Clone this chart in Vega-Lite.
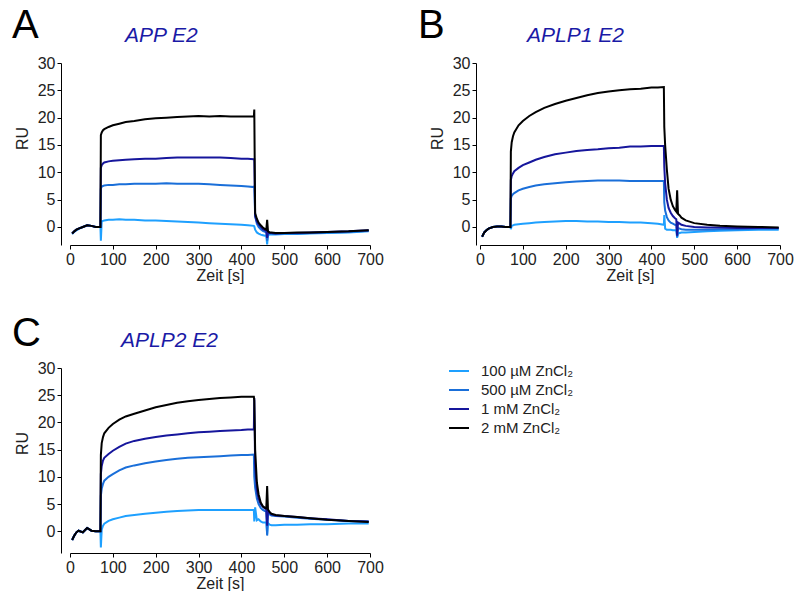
{
  "$schema": "https://vega.github.io/schema/vega-lite/v6.json",
  "background": "white",
  "padding": {"left": 12, "top": 6, "right": 0, "bottom": 0},
  "config": {
    "view": {"stroke": null},
    "font": "Liberation Sans",
    "axis": {"grid": false, "domainColor": "#000", "tickColor": "#000", "labelColor": "#222", "titleColor": "#222", "labelFontSize": 16, "titleFontSize": 16, "titleFontWeight": "normal", "tickSize": 4, "labelPadding": 2, "domainWidth": 1, "tickWidth": 1, "titlePadding": 0, "labelFlush": false, "labelOverlap": false}
  },
  "datasets": {
    "A": [
      {"t":5,"a":-1.3,"b":-1.2,"c":-1.2,"d":-1.2},{"t":10,"a":-0.9,"b":-0.8,"c":-0.8,"d":-0.8},{"t":15,"a":-0.6,"b":-0.5,"c":-0.5,"d":-0.5},{"t":20,"a":-0.4,"b":-0.3,"c":-0.3,"d":-0.3},{"t":30,"a":0.0,"b":0.0,"c":0.0,"d":0.0},{"t":40,"a":0.3,"b":0.3,"c":0.3,"d":0.3},{"t":50,"a":0.2,"b":0.2,"c":0.2,"d":0.2},{"t":60,"a":0.0,"b":0.0,"c":0.0,"d":0.0},{"t":71,"a":0.0,"b":0.0,"c":0.0,"d":0.0},
      {"t":72,"a":-2.5,"b":7.0,"c":10.8,"d":16.8},{"t":74,"a":1.0,"b":7.4,"c":11.3,"d":17.3},{"t":77,"a":1.1,"b":7.5,"c":11.6,"d":17.7},{"t":80,"a":1.2,"b":7.6,"c":11.8,"d":17.9},{"t":90,"a":1.3,"b":7.7,"c":12.0,"d":18.3},{"t":100,"a":1.3,"b":7.7,"c":12.1,"d":18.6},{"t":115,"a":1.4,"b":7.8,"c":12.2,"d":18.9},{"t":130,"a":1.3,"b":7.8,"c":12.3,"d":19.2},{"t":150,"a":1.3,"b":7.9,"c":12.4,"d":19.4},{"t":175,"a":1.2,"b":7.9,"c":12.5,"d":19.7},{"t":200,"a":1.2,"b":7.9,"c":12.5,"d":19.9},{"t":225,"a":1.1,"b":8.0,"c":12.6,"d":20.0},{"t":250,"a":1.0,"b":7.9,"c":12.7,"d":20.1},{"t":275,"a":0.9,"b":7.9,"c":12.7,"d":20.2},{"t":300,"a":0.8,"b":7.9,"c":12.7,"d":20.3},{"t":325,"a":0.7,"b":7.8,"c":12.7,"d":20.2},{"t":350,"a":0.6,"b":7.7,"c":12.7,"d":20.3},{"t":375,"a":0.5,"b":7.6,"c":12.6,"d":20.2},{"t":400,"a":0.4,"b":7.5,"c":12.5,"d":20.2},{"t":415,"a":0.3,"b":7.4,"c":12.5,"d":20.2},{"t":429,"a":0.2,"b":7.3,"c":12.4,"d":20.2},
      {"t":430,"a":0.1,"b":7.5,"c":12.4,"d":21.5},{"t":432,"a":-0.5,"b":2.0,"c":2.0,"d":2.5},{"t":436,"a":-1.0,"b":0.6,"c":1.0,"d":1.5},{"t":440,"a":-1.2,"b":0.0,"c":0.5,"d":0.8},{"t":445,"a":-1.4,"b":-0.4,"c":0.0,"d":0.3},{"t":450,"a":-1.5,"b":-0.7,"c":-0.4,"d":-0.1},{"t":455,"a":-1.6,"b":-0.9,"c":-0.6,"d":-0.4},{"t":458,"a":-1.6,"b":-1.0,"c":-0.7,"d":-0.5},{"t":460,"a":-3.2,"b":-2.5,"c":-2.0,"d":1.3},{"t":462,"a":-1.5,"b":-1.2,"c":-1.0,"d":-0.8},{"t":466,"a":-1.4,"b":-1.2,"c":-1.1,"d":-1.0},{"t":470,"a":-1.4,"b":-1.2,"c":-1.1,"d":-1.0},{"t":480,"a":-1.4,"b":-1.3,"c":-1.2,"d":-1.1},{"t":500,"a":-1.3,"b":-1.2,"c":-1.1,"d":-1.1},{"t":530,"a":-1.3,"b":-1.2,"c":-1.1,"d":-1.0},{"t":560,"a":-1.2,"b":-1.1,"c":-1.0,"d":-1.0},{"t":600,"a":-1.1,"b":-1.0,"c":-0.9,"d":-0.9},{"t":650,"a":-1.0,"b":-0.9,"c":-0.8,"d":-0.8},{"t":697,"a":-0.8,"b":-0.7,"c":-0.6,"d":-0.6}
    ],
    "B": [
      {"t":5,"a":-1.8,"b":-1.8,"c":-1.8,"d":-1.8},{"t":10,"a":-1.0,"b":-1.0,"c":-1.0,"d":-1.0},{"t":15,"a":-0.6,"b":-0.6,"c":-0.6,"d":-0.6},{"t":20,"a":-0.3,"b":-0.3,"c":-0.3,"d":-0.3},{"t":30,"a":0.0,"b":0.0,"c":0.0,"d":0.0},{"t":40,"a":0.1,"b":0.1,"c":0.1,"d":0.1},{"t":50,"a":0.1,"b":0.1,"c":0.1,"d":0.1},{"t":60,"a":0.0,"b":0.0,"c":0.0,"d":0.0},{"t":71,"a":0.0,"b":0.0,"c":0.0,"d":0.0},
      {"t":72,"a":-0.4,"b":5.2,"c":8.6,"d":13.8},{"t":74,"a":0.2,"b":5.7,"c":9.3,"d":15.5},{"t":77,"a":0.3,"b":6.0,"c":9.8,"d":16.6},{"t":80,"a":0.4,"b":6.2,"c":10.2,"d":17.3},{"t":90,"a":0.5,"b":6.7,"c":10.8,"d":18.6},{"t":100,"a":0.6,"b":7.0,"c":11.3,"d":19.4},{"t":115,"a":0.7,"b":7.3,"c":11.8,"d":20.3},{"t":130,"a":0.8,"b":7.6,"c":12.3,"d":21.0},{"t":150,"a":0.9,"b":7.8,"c":12.8,"d":21.8},{"t":175,"a":1.0,"b":8.0,"c":13.3,"d":22.5},{"t":200,"a":1.1,"b":8.2,"c":13.6,"d":23.1},{"t":225,"a":1.1,"b":8.3,"c":13.9,"d":23.6},{"t":250,"a":1.0,"b":8.4,"c":14.1,"d":24.1},{"t":275,"a":1.0,"b":8.5,"c":14.2,"d":24.5},{"t":300,"a":0.9,"b":8.5,"c":14.4,"d":24.8},{"t":325,"a":0.9,"b":8.5,"c":14.5,"d":25.0},{"t":350,"a":0.8,"b":8.4,"c":14.7,"d":25.2},{"t":375,"a":0.8,"b":8.4,"c":14.7,"d":25.3},{"t":400,"a":0.7,"b":8.4,"c":14.8,"d":25.5},{"t":415,"a":0.6,"b":8.4,"c":14.8,"d":25.5},{"t":429,"a":0.4,"b":8.4,"c":14.8,"d":25.6},
      {"t":430,"a":2.2,"b":4.5,"c":11.0,"d":18.3},{"t":432,"a":-0.3,"b":3.0,"c":8.0,"d":15.0},{"t":436,"a":-0.5,"b":1.8,"c":5.0,"d":10.5},{"t":440,"a":-0.5,"b":1.2,"c":3.5,"d":7.0},{"t":445,"a":-0.5,"b":0.8,"c":2.6,"d":5.0},{"t":450,"a":-0.6,"b":0.6,"c":2.0,"d":3.8},{"t":455,"a":-0.6,"b":0.4,"c":1.6,"d":3.1},{"t":458,"a":-0.6,"b":0.3,"c":1.4,"d":2.8},{"t":460,"a":-2.0,"b":-1.8,"c":-1.6,"d":6.7},{"t":462,"a":-1.2,"b":-0.2,"c":0.8,"d":2.4},{"t":466,"a":-1.1,"b":-0.3,"c":0.6,"d":2.1},{"t":470,"a":-1.0,"b":-0.4,"c":0.4,"d":1.7},{"t":480,"a":-1.0,"b":-0.5,"c":0.2,"d":1.2},{"t":500,"a":-0.9,"b":-0.5,"c":0.0,"d":0.7},{"t":530,"a":-0.8,"b":-0.5,"c":-0.1,"d":0.4},{"t":560,"a":-0.7,"b":-0.4,"c":-0.1,"d":0.2},{"t":600,"a":-0.6,"b":-0.4,"c":-0.2,"d":0.1},{"t":650,"a":-0.5,"b":-0.3,"c":-0.2,"d":0.0},{"t":697,"a":-0.5,"b":-0.3,"c":-0.2,"d":-0.1}
    ],
    "C": [
      {"t":5,"a":-1.6,"b":-1.6,"c":-1.6,"d":-1.6},{"t":10,"a":-0.8,"b":-0.8,"c":-0.8,"d":-0.8},{"t":15,"a":-0.2,"b":-0.2,"c":-0.2,"d":-0.2},{"t":20,"a":0.1,"b":0.1,"c":0.1,"d":0.1},{"t":30,"a":-0.2,"b":-0.2,"c":-0.2,"d":-0.2},{"t":40,"a":0.6,"b":0.6,"c":0.6,"d":0.6},{"t":50,"a":0.1,"b":0.1,"c":0.1,"d":0.1},{"t":60,"a":0.0,"b":0.0,"c":0.0,"d":0.0},{"t":71,"a":0.0,"b":0.0,"c":0.0,"d":0.0},
      {"t":72,"a":-3.0,"b":6.5,"c":10.5,"d":14.0},{"t":74,"a":0.3,"b":7.8,"c":12.0,"d":16.2},{"t":77,"a":1.0,"b":8.7,"c":13.0,"d":17.3},{"t":80,"a":1.4,"b":9.3,"c":13.5,"d":18.0},{"t":90,"a":1.9,"b":10.0,"c":14.2,"d":19.0},{"t":100,"a":2.2,"b":10.5,"c":14.8,"d":19.7},{"t":115,"a":2.5,"b":11.2,"c":15.5,"d":20.5},{"t":130,"a":2.8,"b":11.7,"c":16.1,"d":21.1},{"t":150,"a":3.0,"b":12.1,"c":16.6,"d":21.6},{"t":175,"a":3.2,"b":12.5,"c":17.0,"d":22.2},{"t":200,"a":3.4,"b":12.8,"c":17.3,"d":22.8},{"t":225,"a":3.6,"b":13.1,"c":17.6,"d":23.2},{"t":250,"a":3.7,"b":13.3,"c":17.8,"d":23.6},{"t":275,"a":3.8,"b":13.5,"c":18.0,"d":23.9},{"t":300,"a":3.9,"b":13.6,"c":18.2,"d":24.1},{"t":325,"a":3.9,"b":13.7,"c":18.3,"d":24.3},{"t":350,"a":3.9,"b":13.8,"c":18.4,"d":24.5},{"t":375,"a":3.9,"b":13.9,"c":18.5,"d":24.6},{"t":400,"a":3.9,"b":14.0,"c":18.6,"d":24.7},{"t":415,"a":3.9,"b":14.0,"c":18.7,"d":24.7},{"t":429,"a":3.9,"b":14.1,"c":18.7,"d":24.7},
      {"t":430,"a":1.8,"b":10.0,"c":24.5,"d":24.0},{"t":432,"a":4.4,"b":8.0,"c":12.0,"d":15.0},{"t":436,"a":2.0,"b":6.0,"c":7.5,"d":9.0},{"t":440,"a":2.2,"b":5.0,"c":6.0,"d":6.8},{"t":445,"a":1.8,"b":4.3,"c":5.0,"d":5.3},{"t":450,"a":1.6,"b":3.9,"c":4.5,"d":4.6},{"t":455,"a":1.6,"b":3.7,"c":4.2,"d":4.3},{"t":458,"a":1.6,"b":3.6,"c":4.0,"d":4.2},{"t":460,"a":-0.6,"b":-0.8,"c":1.0,"d":8.3},{"t":462,"a":1.5,"b":3.4,"c":3.8,"d":4.0},{"t":466,"a":1.2,"b":3.1,"c":3.4,"d":3.5},{"t":470,"a":1.1,"b":2.9,"c":3.1,"d":3.2},{"t":480,"a":1.1,"b":2.8,"c":2.9,"d":3.0},{"t":500,"a":1.2,"b":2.7,"c":2.8,"d":2.8},{"t":530,"a":1.2,"b":2.5,"c":2.6,"d":2.6},{"t":560,"a":1.3,"b":2.3,"c":2.4,"d":2.4},{"t":600,"a":1.3,"b":2.1,"c":2.2,"d":2.1},{"t":650,"a":1.4,"b":1.9,"c":1.9,"d":1.9},{"t":697,"a":1.4,"b":1.8,"c":1.8,"d":1.7}
    ]
  },
  "resolve": {"scale": {"color": "independent"}, "legend": {"color": "independent"}},
  "spacing": 31,
  "vconcat": [
    {
      "spacing": 34,
      "resolve": {"scale": {"color": "independent"}, "legend": {"color": "independent"}},
      "hconcat": [
        {
          "title": {"text": "A", "anchor": "start", "frame": "bounds", "fontSize": 40, "fontWeight": "normal", "color": "#000", "dy": 21, "dx": -2, "offset": 0},
          "resolve": {"scale": {"color": "independent"}, "legend": {"color": "independent"}},
          "vconcat": [
            {
              "title": {"text": "APP E2", "anchor": "start", "frame": "group", "fontSize": 21, "fontStyle": "italic", "fontWeight": "normal", "color": "#1a1aa6", "dx": 55, "offset": 9},
              "width": 300, "height": 182,
              "data": {"name": "A"},
              "transform": [{"fold": ["a", "b", "c", "d"], "as": ["s", "v"]}],
              "mark": {"type": "line", "strokeWidth": 2},
              "encoding": {
                "x": {"field": "t", "type": "quantitative", "scale": {"domain": [0, 700], "nice": false}, "axis": {"values": [0,100,200,300,400,500,600,700], "title": "Zeit [s]"}},
                "y": {"field": "v", "type": "quantitative", "scale": {"domain": [-3.3, 30], "nice": false, "zero": false}, "axis": {"values": [0,5,10,15,20,25,30], "title": "RU", "offset": 9, "titleX": -31, "titleY": 75}},
                "color": {"field": "s", "type": "nominal", "scale": {"domain": ["a","b","c","d"], "range": ["#1ea0ff","#1a6fd9","#16169c","#000000"]}, "legend": null}
              }
            }
          ]
        },
        {
          "title": {"text": "B", "anchor": "start", "frame": "bounds", "fontSize": 40, "fontWeight": "normal", "color": "#000", "dy": 21, "dx": -11, "offset": 0},
          "resolve": {"scale": {"color": "independent"}, "legend": {"color": "independent"}},
          "vconcat": [
            {
              "title": {"text": "APLP1 E2", "anchor": "start", "frame": "group", "fontSize": 21, "fontStyle": "italic", "fontWeight": "normal", "color": "#1a1aa6", "dx": 47, "offset": 9},
              "width": 300, "height": 182,
              "data": {"name": "B"},
              "transform": [{"fold": ["a", "b", "c", "d"], "as": ["s", "v"]}],
              "mark": {"type": "line", "strokeWidth": 2},
              "encoding": {
                "x": {"field": "t", "type": "quantitative", "scale": {"domain": [0, 700], "nice": false}, "axis": {"values": [0,100,200,300,400,500,600,700], "title": "Zeit [s]"}},
                "y": {"field": "v", "type": "quantitative", "scale": {"domain": [-3.3, 30], "nice": false, "zero": false}, "axis": {"values": [0,5,10,15,20,25,30], "title": "RU", "offset": 4, "titleX": -31, "titleY": 75}},
                "color": {"field": "s", "type": "nominal", "scale": {"domain": ["a","b","c","d"], "range": ["#1ea0ff","#1a6fd9","#16169c","#000000"]}, "legend": null}
              }
            }
          ]
        }
      ]
    },
    {
      "resolve": {"scale": {"color": "independent"}, "legend": {"color": "independent"}},
      "hconcat": [
        {
          "title": {"text": "C", "anchor": "start", "frame": "bounds", "fontSize": 40, "fontWeight": "normal", "color": "#000", "dy": 24, "dx": -2, "offset": 0},
          "resolve": {"scale": {"color": "independent"}, "legend": {"color": "independent"}},
          "vconcat": [
            {
              "title": {"text": "APLP2 E2", "anchor": "start", "frame": "group", "fontSize": 21, "fontStyle": "italic", "fontWeight": "normal", "color": "#1a1aa6", "dx": 51, "offset": 9},
              "width": 300, "height": 185,
              "data": {"name": "C"},
              "transform": [{"fold": ["a", "b", "c", "d"], "as": ["s", "v"]}],
              "mark": {"type": "line", "strokeWidth": 2},
              "encoding": {
                "x": {"field": "t", "type": "quantitative", "scale": {"domain": [0, 700], "nice": false}, "axis": {"values": [0,100,200,300,400,500,600,700], "title": "Zeit [s]"}},
                "y": {"field": "v", "type": "quantitative", "scale": {"domain": [-4, 30], "nice": false, "zero": false}, "axis": {"values": [0,5,10,15,20,25,30], "title": "RU", "offset": 9, "titleX": -31, "titleY": 75}},
                "color": {"field": "s", "type": "nominal", "scale": {"domain": ["a","b","c","d"], "range": ["#1ea0ff","#1a6fd9","#16169c","#000000"]},
                  "legend": {"title": null, "orient": "none", "legendX": 378, "legendY": -8, "symbolType": "stroke", "symbolSize": 400, "symbolStrokeWidth": 2, "labelFontSize": 15, "labelColor": "#222", "labelOffset": 11, "rowPadding": 0, "padding": 0, "labelExpr": "{'a': '100 µM ZnCl₂', 'b': '500 µM ZnCl₂', 'c': '1 mM ZnCl₂', 'd': '2 mM ZnCl₂'}[datum.label]"}}
              }
            }
          ]
        }
      ]
    }
  ]
}
